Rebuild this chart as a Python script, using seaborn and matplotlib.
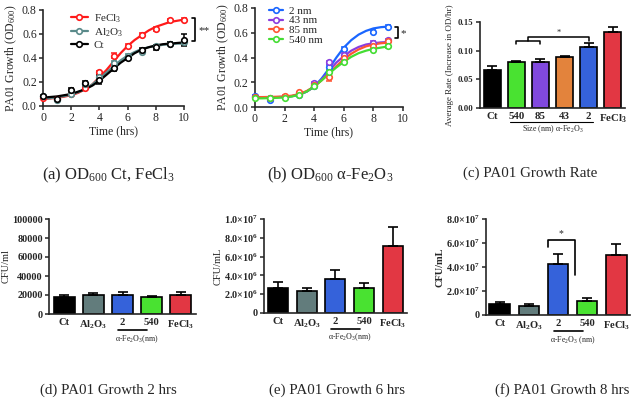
import numpy as np
import matplotlib
matplotlib.use("Agg")
import matplotlib.pyplot as plt
from matplotlib.lines import Line2D
import seaborn as sns

# ---- (a) OD600 Ct, FeCl3 / Al2O3 ----
time_a = [0, 1, 2, 3, 4, 5, 6, 7, 8, 9, 10]
fecl3_a = [0.07, 0.06, 0.10, 0.15, 0.28, 0.42, 0.50, 0.59, 0.64, 0.72, 0.72]
fecl3_a_err = [0.005, 0.005, 0.01, 0.01, 0.015, 0.02, 0.015, 0.015, 0.015, 0.005, 0.01]
al2o3_a = [0.08, 0.05, 0.10, 0.18, 0.24, 0.36, 0.42, 0.45, 0.50, 0.52, 0.53]
al2o3_a_err = [0.005, 0.005, 0.01, 0.01, 0.01, 0.015, 0.01, 0.01, 0.01, 0.01, 0.02]
ct_a = [0.08, 0.06, 0.13, 0.19, 0.22, 0.32, 0.40, 0.47, 0.49, 0.52, 0.55]
ct_a_err = [0.01, 0.01, 0.02, 0.02, 0.04, 0.03, 0.015, 0.015, 0.02, 0.01, 0.05]

fit_t_a = [0, 0.5, 1, 1.5, 2, 2.5, 3, 3.5, 4, 4.5, 5, 5.5, 6, 6.5, 7, 7.5, 8, 8.5, 9, 9.5, 10]
fecl3_fit = [0.06, 0.063, 0.068, 0.078, 0.09, 0.11, 0.14, 0.18, 0.24, 0.30, 0.37, 0.44, 0.50,
             0.55, 0.59, 0.63, 0.66, 0.68, 0.70, 0.71, 0.72]
al2o3_fit = [0.06, 0.065, 0.072, 0.082, 0.095, 0.115, 0.14, 0.18, 0.23, 0.28, 0.33, 0.38, 0.42,
             0.45, 0.475, 0.49, 0.50, 0.51, 0.515, 0.52, 0.52]
ct_fit = [0.07, 0.075, 0.08, 0.09, 0.10, 0.12, 0.14, 0.17, 0.21, 0.26, 0.31, 0.36, 0.40,
          0.44, 0.47, 0.49, 0.505, 0.515, 0.52, 0.525, 0.53]

# ---- (b) OD600 alpha-Fe2O3 ----
time_b = [0, 1, 2, 3, 4, 5, 6, 8, 9]
nm2_b = [0.09, 0.06, 0.08, 0.10, 0.17, 0.32, 0.47, 0.61, 0.65]
nm43_b = [0.08, 0.07, 0.08, 0.11, 0.19, 0.36, 0.42, 0.52, 0.54]
nm85_b = [0.08, 0.07, 0.09, 0.12, 0.18, 0.24, 0.40, 0.49, 0.53]
nm540_b = [0.07, 0.07, 0.07, 0.10, 0.17, 0.28, 0.36, 0.46, 0.49]
nm2_b_err = [0.005, 0.005, 0.005, 0.005, 0.01, 0.02, 0.015, 0.015, 0.01]
nm43_b_err = [0.005, 0.005, 0.005, 0.005, 0.01, 0.015, 0.015, 0.01, 0.01]
nm85_b_err = [0.005, 0.005, 0.005, 0.005, 0.01, 0.03, 0.015, 0.02, 0.01]
nm540_b_err = [0.005, 0.005, 0.005, 0.005, 0.01, 0.015, 0.01, 0.01, 0.01]

fit_t_b = [0, 0.5, 1, 1.5, 2, 2.5, 3, 3.5, 4, 4.5, 5, 5.5, 6, 6.5, 7, 7.5, 8, 8.5, 9]
nm2_fit = [0.08, 0.08, 0.08, 0.08, 0.082, 0.088, 0.10, 0.125, 0.165, 0.23, 0.31, 0.40, 0.48,
           0.54, 0.585, 0.615, 0.635, 0.645, 0.65]
nm43_fit = [0.08, 0.08, 0.08, 0.08, 0.082, 0.088, 0.10, 0.125, 0.165, 0.22, 0.29, 0.36, 0.41,
            0.455, 0.485, 0.505, 0.515, 0.522, 0.525]
nm85_fit = [0.08, 0.08, 0.081, 0.083, 0.085, 0.092, 0.105, 0.13, 0.165, 0.215, 0.27, 0.33, 0.385,
            0.43, 0.465, 0.49, 0.505, 0.515, 0.52]
nm540_fit = [0.07, 0.07, 0.072, 0.074, 0.078, 0.085, 0.10, 0.125, 0.165, 0.215, 0.27, 0.32, 0.365,
             0.405, 0.435, 0.455, 0.47, 0.48, 0.49]

# ---- (c) growth rate ----
rate_labels = ["Ct", "540", "85", "43", "2", "FeCl$_3$"]
rate_values = [0.067, 0.080, 0.080, 0.089, 0.107, 0.132]
rate_err = [0.007, 0.002, 0.005, 0.002, 0.006, 0.009]
rate_colors = ["#000000", "#33ff14", "#7a30f8", "#ff7f20", "#1a55f5", "#ff1a2a"]

# ---- (d)-(f) CFU counts ----
cfu_labels = ["Ct", "Al$_2$O$_3$", "2", "540", "FeCl$_3$"]
cfu_colors = ["#000000", "#5e8080", "#1a55f5", "#33ff14", "#ff1a2a"]
cfu_2h = [18000, 20000, 20000, 17500, 20000]
cfu_2h_err = [1500, 2500, 3000, 1000, 3500]
cfu_6h = [2.7e6, 2.3e6, 3.6e6, 2.7e6, 7.1e6]
cfu_6h_err = [0.6e6, 0.4e6, 1.0e6, 0.5e6, 2.0e6]
cfu_8h = [0.9e7, 0.75e7, 4.25e7, 1.2e7, 5.0e7]
cfu_8h_err = [0.15e7, 0.15e7, 0.85e7, 0.2e7, 0.9e7]

yticks_2h = [0, 20000, 40000, 60000, 80000, 100000]
ytick_labels_2h = ["0", "20000", "40000", "60000", "80000", "100000"]
yticks_6h = [0, 2e6, 4e6, 6e6, 8e6, 1e7]
ytick_labels_6h = ["0", "2.0×10$^6$", "4.0×10$^6$", "6.0×10$^6$", "8.0×10$^6$", "1.0×10$^7$"]
yticks_8h = [0, 2e7, 4e7, 6e7, 8e7]
ytick_labels_8h = ["0", "2.0×10$^7$", "4.0×10$^7$", "6.0×10$^7$", "8.0×10$^7$"]

captions = ["(a) OD$_{600}$ Ct, FeCl$_3$", "(b) OD$_{600}$ α-Fe$_2$O$_3$", "(c) PA01 Growth Rate",
            "(d) PA01 Growth 2 hrs", "(e) PA01 Growth 6 hrs", "(f) PA01 Growth 8 hrs"]

sns.set_style("ticks")
plt.rcParams["font.family"] = ["Liberation Serif", "DejaVu Serif"]
plt.rcParams["mathtext.default"] = "regular"
plt.rcParams["axes.linewidth"] = 1.2

W, H = 631, 400
fig = plt.figure(figsize=(W / 100, H / 100), dpi=100)


def px_axes(left, top, right, bottom):
    return fig.add_axes([left / W, 1 - bottom / H, (right - left) / W, (bottom - top) / H])


def style_axes(ax, size=8, bold=False):
    sns.despine(ax=ax)
    ax.tick_params(direction="out", length=3, width=1.1, labelsize=size, pad=1.5)
    if bold:
        for t in ax.get_xticklabels() + ax.get_yticklabels():
            t.set_fontweight("bold")


def growth_panel(ax, t, series, fit_t, fits, errs, colors):
    for y, fy, e, c in zip(series, fits, errs, colors):
        sns.lineplot(x=fit_t, y=fy, color=c, lw=1.6, ax=ax)
        ax.errorbar(t, y, yerr=e, fmt="none", ecolor=c, elinewidth=1.1, capsize=2.5, capthick=1.1, clip_on=False)
        sns.scatterplot(x=t, y=y, marker="o", s=16, facecolor="white", edgecolor=c, linewidth=1.2,
                        ax=ax, zorder=4, clip_on=False)


def bar_panel(ax, labels, values, errs, colors):
    sns.barplot(x=labels, y=values, hue=labels, palette=colors, legend=False, width=0.7,
                edgecolor="black", linewidth=1.2, ax=ax)
    ax.errorbar(range(len(values)), values, yerr=[np.zeros(len(errs)), errs], fmt="none",
                ecolor="black", elinewidth=1.2, capsize=3.5, capthick=1.2, zorder=5)


# (a)
ax = px_axes(43, 10, 184, 106)
growth_panel(ax, time_a, [fecl3_a, al2o3_a, ct_a], fit_t_a, [fecl3_fit, al2o3_fit, ct_fit],
             [fecl3_a_err, al2o3_a_err, ct_a_err], ["#ff1a1a", "#5a8a8a", "#000000"])
ax.set_xlim(0, 10)
ax.set_ylim(0, 0.8)
ax.set_xticks([0, 2, 4, 6, 8, 10])
ax.set_yticks([0.0, 0.2, 0.4, 0.6, 0.8])
ax.set_xlabel("Time (hrs)", fontsize=8.5, labelpad=1)
ax.set_ylabel("PA01 Growth (OD$_{600}$)", fontsize=8.5, labelpad=2)
style_axes(ax, size=8.5)
handles = [Line2D([], [], color=c, lw=1.6, marker="o", ms=4, mfc="white", mew=1.2)
           for c in ["#ff1a1a", "#5a8a8a", "#000000"]]
ax.legend(handles, ["FeCl$_3$", "Al$_2$O$_3$", "Ct"], loc="upper left", bbox_to_anchor=(0.14, 1.06),
          frameon=False, fontsize=8, handlelength=1.6, handletextpad=0.5, labelspacing=0.15, borderpad=0.2)
ax.plot([10.55, 10.8, 10.8, 10.55], [0.73, 0.73, 0.545, 0.545], color="black", lw=1.2, clip_on=False)
ax.text(11.0, 0.63, "**", fontsize=8, va="center", ha="left")

# (b)
ax = px_axes(255, 8, 403, 107)
b_colors = ["#1a66ff", "#8a3ee0", "#ff5533", "#44dd33"]
growth_panel(ax, time_b, [nm2_b, nm43_b, nm85_b, nm540_b], fit_t_b, [nm2_fit, nm43_fit, nm85_fit, nm540_fit],
             [nm2_b_err, nm43_b_err, nm85_b_err, nm540_b_err], b_colors)
ax.set_xlim(0, 10)
ax.set_ylim(0, 0.8)
ax.set_xticks([0, 2, 4, 6, 8, 10])
ax.set_yticks([0.0, 0.2, 0.4, 0.6, 0.8])
ax.set_xlabel("Time (hrs)", fontsize=8.5, labelpad=1)
ax.set_ylabel("PA01 Growth (OD$_{600}$)", fontsize=8.5, labelpad=2)
style_axes(ax, size=8.5)
handles = [Line2D([], [], color=c, lw=1.6, marker="o", ms=4, mfc="white", mew=1.2) for c in b_colors]
ax.legend(handles, ["2 nm", "43 nm", "85 nm", "540 nm"], loc="upper left", bbox_to_anchor=(0.04, 1.1),
          frameon=False, fontsize=8, handlelength=1.3, handletextpad=0.5, labelspacing=0.0, borderpad=0.2)
ax.plot([9.47, 9.66, 9.66, 9.47], [0.644, 0.644, 0.555, 0.555], color="black", lw=1.2, clip_on=False)
ax.text(9.85, 0.59, "*", fontsize=8, va="center", ha="left")

# (c)
ax = px_axes(480, 22, 625, 108)
bar_panel(ax, rate_labels, rate_values, rate_err, rate_colors)
ax.set_xlim(-0.52, 5.52)
ax.set_ylim(0, 0.15)
ax.set_yticks([0.00, 0.05, 0.10, 0.15])
ax.set_yticklabels(["0.00", "0.05", "0.10", "0.15"])
ax.set_ylabel("Average Rate (Increase in OD/hr)", fontsize=6.5, labelpad=3)
style_axes(ax, size=6.3, bold=True)
ax.tick_params(axis="x", length=0, pad=3, labelsize=7.8)
ax.plot([1, 1, 2, 2], [0.112, 0.117, 0.117, 0.112], color="black", lw=1.1)
ax.plot([1.5, 1.5, 4, 4], [0.117, 0.123, 0.123, 0.117], color="black", lw=1.1)
ax.text(2.75, 0.131, "*", fontsize=6, ha="center", va="center")
ax.plot([0.75, 4.2], [-0.025, -0.025], color="black", lw=0.8, clip_on=False)
ax.text(2.5, -0.027, "Size (nm) α-Fe$_2$O$_3$", fontsize=5.8, ha="center", va="top")

# (d)-(f)
cfu_panels = [
    ((49, 219, 196, 314), cfu_2h, cfu_2h_err, yticks_2h, ytick_labels_2h, "CFU/ml", (-0.53, 4.53), "normal"),
    ((264, 219, 407, 313), cfu_6h, cfu_6h_err, yticks_6h, ytick_labels_6h, "CFU/mL", (-0.49, 4.5), "normal"),
    ((486, 219, 630, 315), cfu_8h, cfu_8h_err, yticks_8h, ytick_labels_8h, "CFU/mL", (-0.47, 4.47), "bold"),
]
for box, vals, errs, yt, ytl, ylab, xl, lw in cfu_panels:
    ax = px_axes(*box)
    bar_panel(ax, cfu_labels, vals, errs, cfu_colors)
    ax.set_xlim(*xl)
    ax.set_ylim(yt[0], yt[-1])
    ax.set_yticks(yt)
    ax.set_yticklabels(ytl)
    ax.set_ylabel(ylab, fontsize=7.5, labelpad=1, fontweight=lw)
    style_axes(ax, size=7.3, bold=True)
    ax.tick_params(axis="x", length=0, pad=3, labelsize=7.6)
    top = yt[-1]
    ax.plot([1.85, 2.85], [-0.17 * top, -0.17 * top], color="black", lw=1.2, clip_on=False)
    lab = "α-Fe$_2$O$_3$ (nm)" if lw == "bold" else "α-Fe$_2$O$_3$(nm)"
    ax.text(2.5, -0.2 * top, lab, fontsize=5.8, ha="center", va="top")
    if lw == "bold":
        ax.plot([1.65, 1.65, 2.6, 2.6], [5.7e7, 6.25e7, 6.25e7, 3.35e7], color="black", lw=1.2)
        ax.text(2.1, 6.75e7, "*", fontsize=7, ha="center", va="center")

# captions
cap_pos = [(108, 175, 12), (330, 175, 12), (530, 173, 10.8),
           (108, 390, 10.8), (337, 390, 10.8), (562, 390, 10.8)]
for (cx, cy, fs), txt in zip(cap_pos, captions):
    fig.text(cx / W, 1 - cy / H, txt, fontsize=fs, ha="center", va="center")

fig.savefig("out.png", dpi=100)
